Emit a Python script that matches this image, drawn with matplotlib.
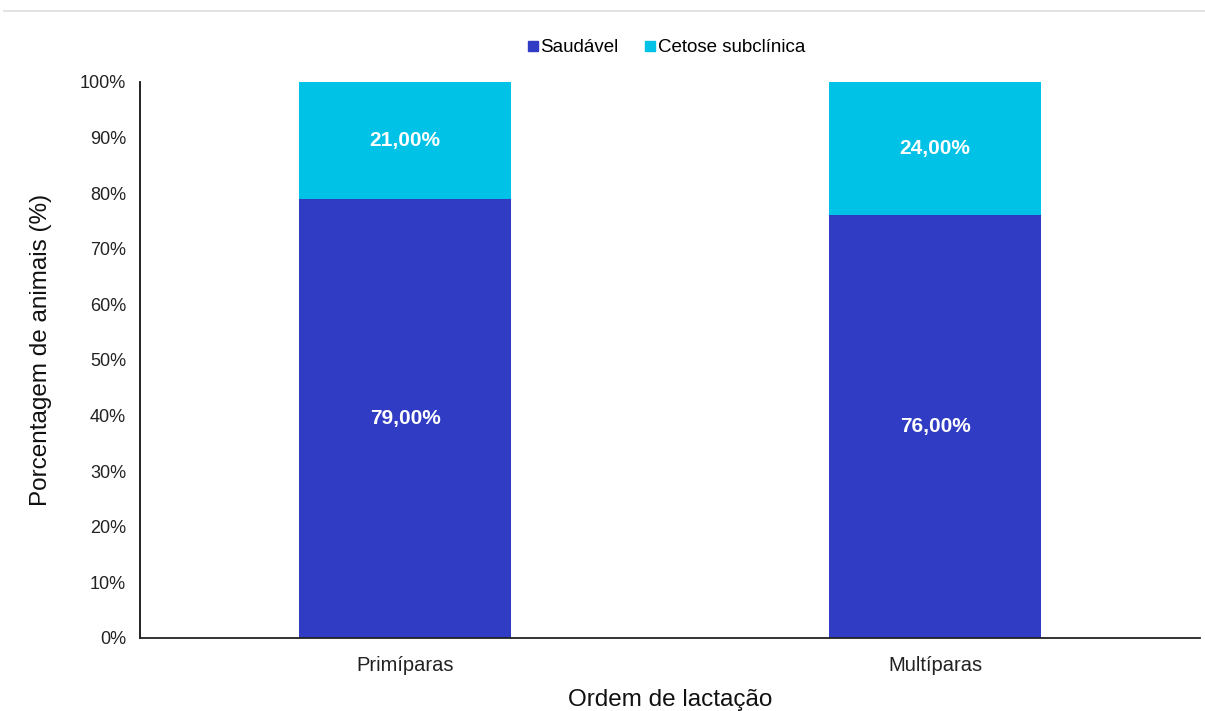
import matplotlib
matplotlib.use("Agg")
import matplotlib.pyplot as plt
from matplotlib.lines import Line2D

plt.rcParams['font.family'] = ['Liberation Sans', 'DejaVu Sans']

categories = ["Primíparas", "Multíparas"]
saudavel = [79.0, 76.0]
cetose = [21.0, 24.0]
series_names = ["Saudável", "Cetose subclínica"]
yticks = [0, 10, 20, 30, 40, 50, 60, 70, 80, 90, 100]

col_saud = "#303CC4"
col_cet = "#00C2E6"

fig = plt.figure(figsize=(12.05, 7.11), dpi=100)
ax = fig.add_axes([0.1162, 0.1027, 0.8797, 0.782])

x = list(range(len(categories)))
w = 0.40
ax.bar(x, saudavel, width=w, color=col_saud, zorder=2)
ax.bar(x, cetose, width=w, bottom=saudavel, color=col_cet, zorder=2)

def fmt(v):
    return f"{v:.2f}%".replace(".", ",")

for xi, s, c in zip(x, saudavel, cetose):
    ax.text(xi, s / 2, fmt(s), ha="center", va="center", color="white",
            fontsize=15, fontweight="bold")
    ax.text(xi, s + c / 2, fmt(c), ha="center", va="center", color="white",
            fontsize=15, fontweight="bold")

ax.set_xlim(-0.5, 1.5)
ax.set_ylim(0, 100)
ax.set_yticks(yticks)
ax.set_yticklabels([f"{t}%" for t in yticks], fontsize=13, color="#222222")
ax.set_xticks(x)
ax.set_xticklabels(categories, fontsize=14.5, color="#222222")
ax.tick_params(axis="both", length=0)
ax.tick_params(axis="y", pad=10)
ax.tick_params(axis="x", pad=13)

for side in ["top", "right"]:
    ax.spines[side].set_visible(False)
ax.spines["left"].set_color("#111111")
ax.spines["bottom"].set_color("#222222")
ax.spines["left"].set_linewidth(1.3)
ax.spines["bottom"].set_linewidth(1.3)

ax.set_ylabel("Porcentagem de animais (%)", fontsize=17.5, color="#111111")
ax.yaxis.set_label_coords(-0.083, 0.518)
ax.set_xlabel("Ordem de lactação", fontsize=17.5, color="#111111", labelpad=10)

handles = [Line2D([], [], marker="s", linestyle="none", markersize=7.5, color=col_saud),
           Line2D([], [], marker="s", linestyle="none", markersize=7.5, color=col_cet)]
fig.legend(handles, series_names, loc="center", bbox_to_anchor=(0.552, 0.933),
           ncol=2, frameon=False, fontsize=13.5, handletextpad=0.0,
           columnspacing=1.3, handlelength=0.8)

fig.add_artist(Line2D([0.003, 1.0], [0.984, 0.984], color="#dddddd", linewidth=1.2))

fig.savefig("out.png", dpi=100)
